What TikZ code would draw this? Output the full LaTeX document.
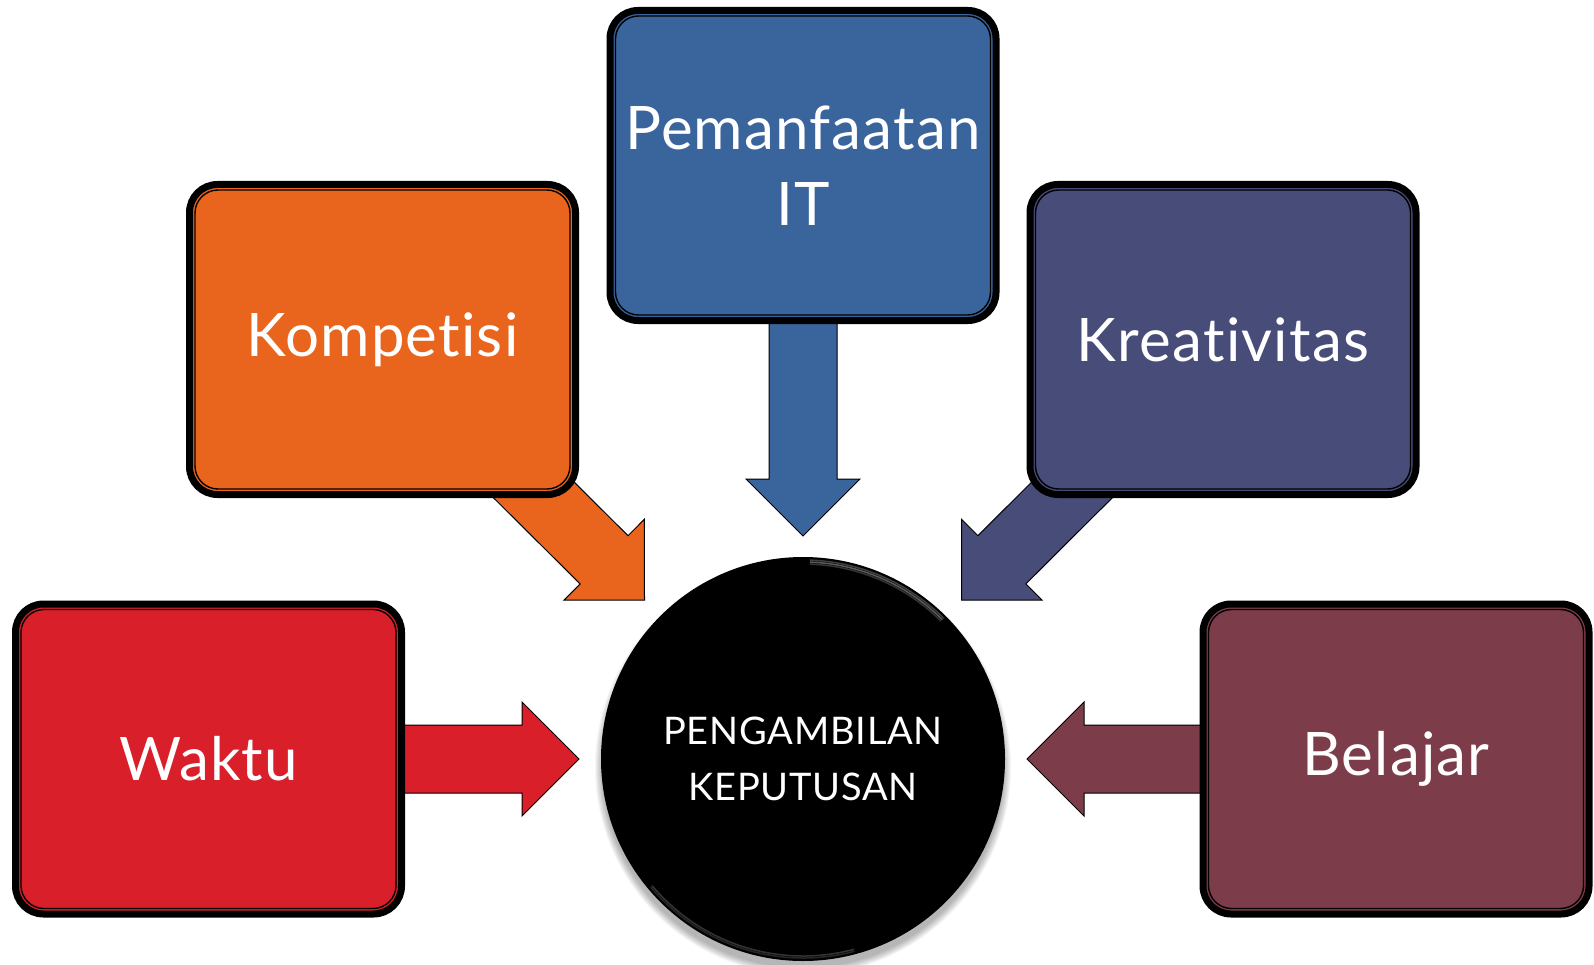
\documentclass[tikz,border=0pt]{standalone}
\usepackage{fontspec}
\setmainfont{Lato}[Ligatures=NoCommon, LetterSpace=2]
\usetikzlibrary{calc}
\pgfdeclarelayer{bg}
\pgfsetlayers{bg,main}
\definecolor{ckomp}{RGB}{233,101,30}
\definecolor{cit}{RGB}{58,100,156}
\definecolor{ckre}{RGB}{71,76,120}
\definecolor{cwak}{RGB}{217,31,41}
\definecolor{cbel}{RGB}{125,60,74}
\tikzset{
  box/.style={rectangle, rounded corners=28pt, draw=black, line width=7pt,
    minimum width=386pt, minimum height=310pt, outer sep=0pt, inner sep=0pt,
    text=white, font=\fontsize{60}{76}\selectfont, align=center},
  innerln/.style={draw=black, line width=1.4pt, rounded corners=23pt},
  arr/.style={draw=black, line width=1pt},
  hub/.style={circle, fill=black, minimum size=404pt, inner sep=0pt, outer sep=0pt,
    text=white, font=\fontsize{38}{56}\selectfont, align=center}
}
\newcommand\innerline[1]{\draw[innerln] ($(#1.north west)+(5.5,5.5)$) rectangle ($(#1.south east)+(-5.5,-5.5)$);}
\newcommand\blockarr[3]{%
  \coordinate (hb) at ($(#3)!57pt!(#2)$);
  \draw[arr, fill=#1] ($(#2)!34pt!90:(#3)$) -- ($(hb)!34pt!90:(#3)$) -- ($(hb)!57pt!90:(#3)$)
    -- (#3) -- ($(hb)!57pt!-90:(#3)$) -- ($(hb)!34pt!-90:(#3)$) -- ($(#2)!34pt!-90:(#3)$) -- cycle;}
\begin{document}
\begin{tikzpicture}[x=1pt,y=-1pt]
\useasboundingbox (0,0) rectangle (1594,965);
% boxes
\node[box, fill=ckomp] (k) at (382.5,339.5) {Kompetisi};
\node[box, fill=cit] (it) at (803,165.5) {Pemanfaatan\\IT};
\node[box, fill=ckre] (kr) at (1223,339.5) {Kreativitas};
\node[box, fill=cwak] (w) at (208.5,759) {Waktu};
\node[box, fill=cbel] (b) at (1396,759) {Belajar};
\foreach \n in {k,it,kr,w,b} {\innerline{\n}}
% circle shadow
\foreach \i in {1,...,8} {\fill[black, opacity=0.04] (803,767) circle ({200+\i*1.0});}
\node[hub] (c) at (803,759) {PENGAMBILAN\\KEPUTUSAN};
\foreach \r/\o in {199/0.25,197/0.35,195/0.2} {
  \draw[white, line width=1.5pt, opacity=\o] ($(c.center)+(-88:\r)$) arc[start angle=-88, end angle=-45, radius=\r];}
\foreach \r/\o in {199/0.15,197/0.2} {
  \draw[white, line width=1.5pt, opacity=\o] ($(c.center)+(75:\r)$) arc[start angle=75, end angle=140, radius=\r];}
% arrow tips
\coordinate (tw) at ($(c.center)+(-224,0)$);
\coordinate (tb) at ($(c.center)+(224,0)$);
\coordinate (tit) at ($(c.center)+(0,-223)$);
\coordinate (tk) at ($(c.center)+(-158.5,-159)$);
\coordinate (tkr) at ($(c.center)+(158.5,-159)$);
\begin{pgfonlayer}{bg}
\fill[white] (0,0) rectangle (1594,965);
\blockarr{cwak}{w.center}{tw}
\blockarr{cbel}{b.center}{tb}
\blockarr{cit}{it.center}{tit}
\blockarr{ckomp}{k.center}{tk}
\blockarr{ckre}{kr.center}{tkr}
\end{pgfonlayer}
\end{tikzpicture}
\end{document}
